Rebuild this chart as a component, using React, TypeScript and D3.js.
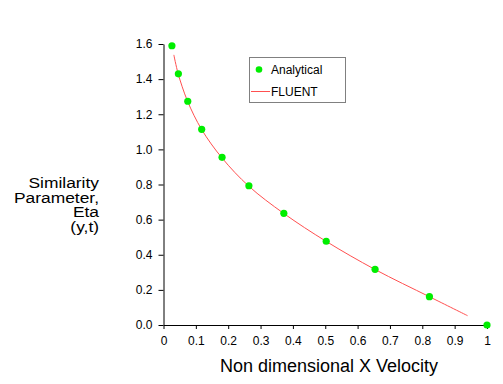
import React, { useEffect, useRef } from 'react';
import * as d3 from 'd3';

// Analytical solution (green dots)
const analyticalX = [0.026, 0.046, 0.075, 0.118, 0.181, 0.264, 0.372, 0.503, 0.654, 0.822, 1.0];
const analyticalY = [1.59, 1.43, 1.274, 1.114, 0.955, 0.793, 0.636, 0.477, 0.317, 0.161, 0.0];

// FLUENT result (thin red line)
const fluentX = [0.032, 0.045, 0.074, 0.118, 0.181, 0.264, 0.372, 0.503, 0.654, 0.822, 0.94];
const fluentY = [1.538, 1.433, 1.276, 1.113, 0.951, 0.79, 0.635, 0.476, 0.316, 0.161, 0.053];

const xTicks = [0, 0.1, 0.2, 0.3, 0.4, 0.5, 0.6, 0.7, 0.8, 0.9, 1];
const yTicks = [0, 0.2, 0.4, 0.6, 0.8, 1.0, 1.2, 1.4, 1.6];
const yTitle = ['Similarity', 'Parameter,', 'Eta', '(y,t)'];
const xTitle = 'Non dimensional X Velocity';
const legendNames = ['Analytical', 'FLUENT'];

const width = 503;
const height = 384;
const font = 'Arial, "Liberation Sans", sans-serif';

export default function App() {
  const ref = useRef<SVGSVGElement>(null);

  useEffect(() => {
    const svg = d3.select(ref.current);
    svg.selectAll('*').remove();

    const x = d3.scaleLinear().domain([0, 1]).range([163.5, 487]);
    const y = d3.scaleLinear().domain([0, 1.6]).range([325, 44]);

    // minor ticks
    const xMinor = d3.range(0, 1.0001, 0.02);
    const yMinor = d3.range(0, 1.6001, 0.1);

    const xg = svg.append('g').attr('transform', 'translate(0,325)');
    xg.call(d3.axisBottom(x).tickValues(xMinor).tickSize(2).tickFormat(() => ''));
    xg.call(d3.axisBottom(x).tickValues(xTicks).tickSize(4).tickSizeOuter(0)
      .tickFormat(d => (d === 0 || d === 1 ? String(d) : d3.format('.1f')(d as number))));
    xg.selectAll('text').attr('dy', null).attr('y', 20).attr('font-size', 12)
      .attr('font-family', font).attr('fill', '#000');

    const yg = svg.append('g').attr('transform', 'translate(163.5,0)');
    yg.call(d3.axisLeft(y).tickValues(yMinor).tickSize(3).tickFormat(() => ''));
    yg.call(d3.axisLeft(y).tickValues(yTicks).tickSize(5).tickSizeOuter(0)
      .tickFormat(d3.format('.1f')));
    yg.selectAll('text').attr('x', -11).attr('font-size', 12)
      .attr('font-family', font).attr('fill', '#000');

    svg.selectAll('.domain').attr('stroke', '#000');
    svg.selectAll('.tick line').attr('stroke', '#000');

    // FLUENT line
    const pts: [number, number][] = fluentX.map((v, i) => [v, fluentY[i]]);
    svg.append('path')
      .attr('d', d3.line<[number, number]>()
        .x(d => x(d[0])).y(d => y(d[1]))
        .curve(d3.curveCatmullRom.alpha(0.5))(pts))
      .attr('fill', 'none')
      .attr('stroke', '#ff5050')
      .attr('stroke-width', 1);

    // Analytical dots
    svg.append('g').selectAll('circle')
      .data(analyticalX)
      .enter()
      .append('circle')
      .attr('cx', d => x(d))
      .attr('cy', (d, i) => y(analyticalY[i]))
      .attr('r', 3.6)
      .attr('fill', '#00ee00');

    // legend
    const lg = svg.append('g');
    lg.append('rect').attr('x', 249.5).attr('y', 57.5).attr('width', 96).attr('height', 45)
      .attr('fill', '#fff').attr('stroke', '#808080');
    lg.append('circle').attr('cx', 259).attr('cy', 69.5).attr('r', 3.3).attr('fill', '#00ee00');
    lg.append('line').attr('x1', 251).attr('x2', 270).attr('y1', 91.5).attr('y2', 91.5)
      .attr('stroke', '#ff5050');
    lg.selectAll('text').data(legendNames).enter().append('text')
      .attr('x', 271).attr('y', (d, i) => 74 + i * 21.5)
      .attr('font-size', 12).attr('font-family', font).text(d => d);

    // titles
    svg.append('text').attr('x', 329).attr('y', 372).attr('text-anchor', 'middle')
      .attr('font-size', 18).attr('font-family', font).text(xTitle);
    // y title: wide, short glyphs with tight line spacing
    svg.append('g').selectAll('text').data(yTitle).enter().append('text')
      .attr('transform', (d, i) => `translate(99,${188 + i * 14.5}) scale(1.2,1)`)
      .attr('text-anchor', 'end')
      .attr('font-size', 14.5).attr('font-family', font).text(d => d);
  }, []);

  return (
    <svg ref={ref} width={width} height={height}
      style={{ position: 'absolute', left: 0, top: 0, background: '#fff' }} />
  );
}
